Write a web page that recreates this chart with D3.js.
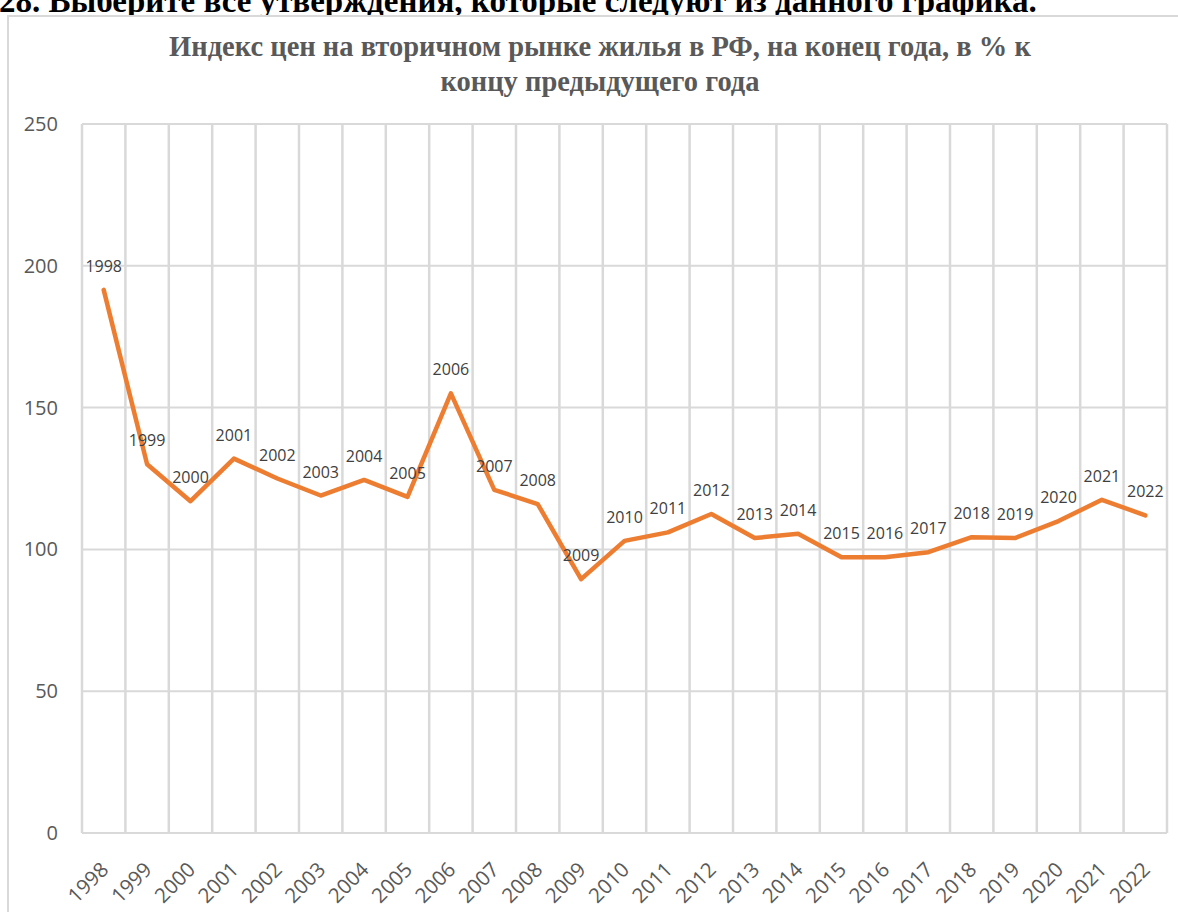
<!DOCTYPE html>
<html>
<head>
<meta charset="utf-8">
<script src="https://cdn.jsdelivr.net/npm/d3@7"></script>
<style>
  html, body { margin: 0; padding: 0; background: #fff; }
  svg { display: block; }
  .serif { font-family: "Liberation Serif", "Times New Roman", serif; font-weight: bold; }
  .sans { font-family: "Open Sans", sans-serif; }
</style>
</head>
<body>
<svg id="chart" width="1178" height="912"></svg>
<script>
const years = ["1998","1999","2000","2001","2002","2003","2004","2005","2006","2007","2008","2009","2010","2011","2012","2013","2014","2015","2016","2017","2018","2019","2020","2021","2022"];
const values = [191.5,130,117,132,125,119,124.5,118.5,155,121,116,89.5,103,106,112.5,104,105.5,97.2,97.2,99,104.3,104,110,117.5,112];
const yTicks = [0,50,100,150,200,250];
const questionText = "28. Выберите все утверждения, которые следуют из данного графика.";
const titleLines = ["Индекс цен на вторичном рынке жилья в РФ, на конец года, в % к", "концу предыдущего года"];

const svg = d3.select("#chart");
const W = 1178, H = 912;
const plot = {left: 82, right: 1167, top: 124, bottom: 833};

// cut-off question text (cropped at the top edge in the reference as well)
svg.append("text")
  .attr("class", "serif")
  .attr("x", -1).attr("y", 12)
  .style("font-size", "33px")
  .attr("fill", "#000")
  .text(questionText);

// chart frame
svg.append("rect")
  .attr("x", 8).attr("y", 16)
  .attr("width", W).attr("height", H)
  .attr("fill", "#fff")
  .attr("stroke", "#d9d9d9")
  .attr("stroke-width", 2);

// title
const title = svg.append("text")
  .attr("class", "serif")
  .attr("text-anchor", "middle")
  .style("font-size", "28.5px")
  .attr("fill", "#595959");
title.selectAll("tspan").data(titleLines).join("tspan")
  .attr("x", 600)
  .attr("y", (d, i) => 56 + i * 35)
  .text(d => d);

const x = d3.scaleBand().domain(years).range([plot.left, plot.right]).padding(0);
const y = d3.scaleLinear().domain([0, 250]).range([plot.bottom, plot.top]);

// horizontal gridlines
svg.append("g").selectAll("line").data(yTicks).join("line")
  .attr("x1", plot.left).attr("x2", plot.right)
  .attr("y1", d => y(d)).attr("y2", d => y(d))
  .attr("stroke", "#d9d9d9").attr("stroke-width", 2);

// vertical gridlines at category boundaries
const bounds = years.map(d => x(d)).concat([x(years[years.length - 1]) + x.bandwidth()]);
svg.append("g").selectAll("line").data(bounds).join("line")
  .attr("x1", d => d).attr("x2", d => d)
  .attr("y1", plot.top).attr("y2", plot.bottom)
  .attr("stroke", "#d9d9d9").attr("stroke-width", 2.5);

// y axis labels
const yAxis = d3.axisLeft(y).tickValues(yTicks).tickSize(0).tickPadding(24);
const gy = svg.append("g").attr("transform", `translate(${plot.left},0)`).call(yAxis);
gy.select(".domain").remove();
gy.selectAll("text")
  .attr("class", "sans")
  .style("font-size", "20px")
  .attr("fill", "#595959");

// x axis labels
const xAxis = d3.axisBottom(x).tickSize(0).tickPadding(0);
const gx = svg.append("g").attr("transform", `translate(0,${plot.bottom})`).call(xAxis);
gx.select(".domain").remove();
gx.selectAll("text")
  .attr("class", "sans")
  .style("font-size", "20.5px")
  .attr("fill", "#595959")
  .attr("text-anchor", "end")
  .attr("dy", null)
  .attr("transform", "translate(6,38) rotate(-45)");

// line
const line = d3.line()
  .x((d, i) => x(years[i]) + x.bandwidth() / 2)
  .y(d => y(d));
svg.append("path")
  .datum(values)
  .attr("d", line)
  .attr("fill", "none")
  .attr("stroke", "#ED7D31")
  .attr("stroke-width", 4.5)
  .attr("stroke-linejoin", "round")
  .attr("stroke-linecap", "round");

// data labels (category names)
svg.append("g").selectAll("text").data(values).join("text")
  .attr("class", "sans")
  .attr("x", (d, i) => x(years[i]) + x.bandwidth() / 2)
  .attr("y", d => y(d) - 18)
  .attr("text-anchor", "middle")
  .style("font-size", "16px")
  .attr("fill", "#404040")
  .text((d, i) => years[i]);
</script>
</body>
</html>
